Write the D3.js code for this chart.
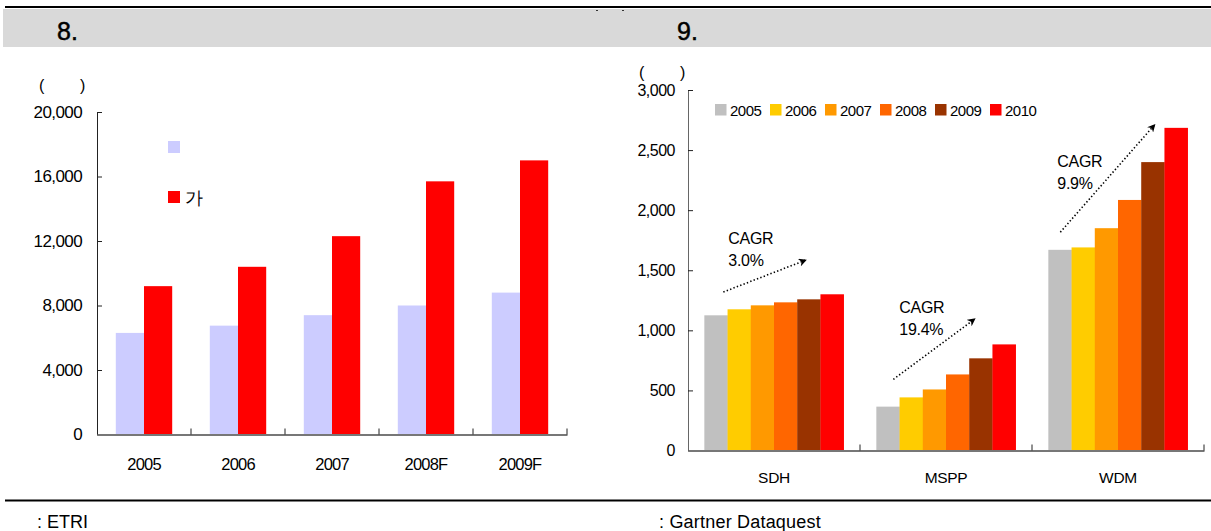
<!DOCTYPE html>
<html>
<head>
<meta charset="utf-8">
<script src="https://cdn.jsdelivr.net/npm/d3@7"></script>
<style>
  html, body { margin: 0; padding: 0; background: #fff; }
  svg { display: block; font-family: "Liberation Sans", Arial, sans-serif; }
  text { fill: #000; }
</style>
</head>
<body>
<svg id="chart" width="1211" height="531"></svg>
<script>
// Figure 8: yearly totals, two series
const years8 = ["2005", "2006", "2007", "2008F", "2009F"];
const seriesNames8 = ["", "가"];
const seriesA8 = [6300, 6750, 7400, 8000, 8800];
const seriesB8 = [9200, 10400, 12300, 15700, 17000];
const yTicks8 = [0, 4000, 8000, 12000, 16000, 20000];
const colors8 = ["#CCCCFF", "#FF0000"];

// Figure 9: market by technology, 2005-2010
const techs9 = ["SDH", "MSPP", "WDM"];
const years9 = ["2005", "2006", "2007", "2008", "2009", "2010"];
const sdh9  = [1125, 1175, 1208, 1233, 1258, 1300];
const mspp9 = [365, 442, 508, 633, 767, 883];
const wdm9  = [1670, 1690, 1850, 2085, 2400, 2685];
const yTicks9 = [0, 500, 1000, 1500, 2000, 2500, 3000];
const colors9 = ["#C0C0C0", "#FFCC00", "#FF9900", "#FF6600", "#993300", "#FF0000"];
const cagrLabels9 = ["3.0%", "19.4%", "9.9%"];

const svg = d3.select("#chart");
const W = 1211;
const FONT = "Liberation Sans, Arial, sans-serif";
const unitText = "(" + "\u00a0".repeat(8) + ")";

// ---------- page frame ----------
svg.append("rect").attr("x", 3).attr("y", 9).attr("width", W - 3).attr("height", 38).attr("fill", "#D9D9D9");
svg.append("line").attr("x1", 5).attr("x2", W).attr("y1", 7).attr("y2", 7).attr("stroke", "#000").attr("stroke-width", 2.2);
svg.append("line").attr("x1", 5).attr("x2", W).attr("y1", 500.5).attr("y2", 500.5).attr("stroke", "#000").attr("stroke-width", 2.2);
svg.append("line").attr("x1", 596).attr("x2", 598).attr("y1", 10.5).attr("y2", 10.5).attr("stroke", "#333").attr("stroke-width", 1);
svg.append("line").attr("x1", 622).attr("x2", 624).attr("y1", 10.5).attr("y2", 10.5).attr("stroke", "#333").attr("stroke-width", 1);

svg.append("text").attr("x", 57).attr("y", 40).attr("font-size", 25).attr("stroke", "#000").attr("stroke-width", 0.5).text("8.");
svg.append("text").attr("x", 677).attr("y", 40).attr("font-size", 25).attr("stroke", "#000").attr("stroke-width", 0.5).text("9.");
svg.append("text").attr("x", 37).attr("y", 528).attr("font-size", 18).attr("letter-spacing", 0).text(": ETRI");
svg.append("text").attr("x", 659).attr("y", 528).attr("font-size", 18).attr("letter-spacing", 0.2).text(": Gartner Dataquest");

// ---------- Figure 8 ----------
{
  const x = d3.scaleBand().domain(years8).range([97, 567]).paddingInner(0.4).paddingOuter(0.2);
  const y = d3.scaleLinear().domain([0, 20000]).range([434.5, 112]);
  const xs = d3.scaleBand().domain([0, 1]).range([0, x.bandwidth()]);
  const rows = years8.map((yr, i) => ({ yr, vals: [seriesA8[i], seriesB8[i]] }));

  const g = svg.append("g");
  g.selectAll("g.cat").data(rows).join("g").attr("class", "cat")
    .attr("transform", d => `translate(${x(d.yr)},0)`)
    .selectAll("rect").data(d => d.vals.map((v, k) => ({ v, k }))).join("rect")
    .attr("x", d => xs(d.k)).attr("width", xs.bandwidth())
    .attr("y", d => y(d.v)).attr("height", d => y(0) - y(d.v))
    .attr("fill", d => colors8[d.k]);

  // y axis
  const ya = g.append("g").attr("transform", "translate(97,0)")
    .call(d3.axisLeft(y).tickValues(yTicks8).tickSizeInner(-5).tickSizeOuter(0).tickPadding(15)
      .tickFormat(d3.format(",")));
  ya.select(".domain").attr("stroke", "#222");
  ya.selectAll(".tick line").attr("stroke", "#222");
  ya.selectAll("text").attr("font-size", 17).attr("letter-spacing", -0.6).attr("fill", "#000").attr("font-family", FONT);

  // x axis with ticks on category boundaries
  const xa = g.append("g").attr("transform", `translate(0,${y(0)})`)
    .call(d3.axisBottom(x).tickSize(0).tickPadding(24));
  xa.select(".domain").attr("stroke", "#777").attr("stroke-width", 2);
  xa.selectAll("text").attr("font-size", 16.5).attr("letter-spacing", -0.8).attr("fill", "#000").attr("font-family", FONT);
  const bounds = years8.map(c => x(c) + x.bandwidth() + x.step() * x.paddingInner() / 2);
  g.selectAll("line.bt").data(bounds).join("line").attr("class", "bt")
    .attr("x1", d => d).attr("x2", d => d).attr("y1", y(0)).attr("y2", y(0) - 6)
    .attr("stroke", "#222").attr("stroke-width", 1);

  // unit label
  g.append("text").attr("x", 39).attr("y", 91).attr("font-size", 16).text(unitText);

  // legend
  const lg = g.append("g").attr("transform", "translate(168,141)");
  seriesNames8.forEach((name, k) => {
    lg.append("rect").attr("x", 0).attr("y", k * 50).attr("width", 12).attr("height", 12).attr("fill", colors8[k]);
    lg.append("text").attr("x", 17).attr("y", k * 50 + 13).attr("font-size", 18).text(name);
  });
}

// ---------- Figure 9 ----------
{
  const data9 = [sdh9, mspp9, wdm9];
  const x = d3.scaleBand().domain(techs9).range([688, 1204]).paddingInner(0.19).paddingOuter(0.095);
  const y = d3.scaleLinear().domain([0, 3000]).range([450.5, 90]);
  const xs = d3.scaleBand().domain(years9).range([0, x.bandwidth()]);
  const rows = techs9.map((t, i) => ({ t, vals: data9[i] }));

  const g = svg.append("g");
  g.selectAll("g.cat").data(rows).join("g").attr("class", "cat")
    .attr("transform", d => `translate(${x(d.t)},0)`)
    .selectAll("rect").data(d => d.vals.map((v, k) => ({ v, k }))).join("rect")
    .attr("x", d => xs(years9[d.k])).attr("width", xs.bandwidth() + 0.3)
    .attr("y", d => y(d.v)).attr("height", d => y(0) - y(d.v))
    .attr("fill", d => colors9[d.k]);

  const ya = g.append("g").attr("transform", "translate(688,0)")
    .call(d3.axisLeft(y).tickValues(yTicks9).tickSizeInner(-5).tickSizeOuter(0).tickPadding(13)
      .tickFormat(d3.format(",")));
  ya.select(".domain").attr("stroke", "#666");
  ya.selectAll(".tick line").attr("stroke", "#222");
  ya.selectAll("text").attr("font-size", 16).attr("letter-spacing", -0.5).attr("fill", "#000").attr("font-family", FONT);

  const xa = g.append("g").attr("transform", `translate(0,${y(0)})`)
    .call(d3.axisBottom(x).tickSize(0).tickPadding(21));
  xa.select(".domain").attr("stroke", "#777").attr("stroke-width", 2);
  xa.selectAll("text").attr("font-size", 15.5).attr("letter-spacing", -0.3).attr("fill", "#000").attr("font-family", FONT);
  const bounds = techs9.map(c => x(c) + x.bandwidth() + x.step() * x.paddingInner() / 2);
  g.selectAll("line.bt").data(bounds).join("line").attr("class", "bt")
    .attr("x1", d => d).attr("x2", d => d).attr("y1", y(0)).attr("y2", y(0) - 6)
    .attr("stroke", "#222").attr("stroke-width", 1);

  g.append("text").attr("x", 639).attr("y", 78).attr("font-size", 16).text(unitText);

  // legend row
  const lg = g.append("g").attr("transform", "translate(715,104)");
  years9.forEach((yr, k) => {
    lg.append("rect").attr("x", k * 55).attr("y", 0).attr("width", 11.5).attr("height", 11.5).attr("fill", colors9[k]);
    lg.append("text").attr("x", k * 55 + 15).attr("y", 12).attr("font-size", 15).attr("letter-spacing", -0.5).text(yr);
  });

  // CAGR growth arrows: offsets from the group start, heights in data units
  const arrowFrom = [[19, 1319], [17, 592], [12, 1817]];
  const arrowTo = [[101, 1583], [98, 1092], [106, 2708]];
  const textAt = [[24, 1717], [23, 1144], [9, 2361]];
  const defs = svg.append("defs");
  defs.append("marker").attr("id", "ah").attr("viewBox", "0 0 10 10").attr("refX", 8).attr("refY", 5)
    .attr("markerWidth", 8).attr("markerHeight", 8).attr("markerUnits", "userSpaceOnUse").attr("orient", "auto")
    .append("path").attr("d", "M0,0 L10,5 L0,10 L3,5 Z").attr("fill", "#000");
  techs9.forEach((t, i) => {
    const x0 = x(t);
    g.append("line")
      .attr("x1", x0 + arrowFrom[i][0]).attr("y1", y(arrowFrom[i][1]))
      .attr("x2", x0 + arrowTo[i][0]).attr("y2", y(arrowTo[i][1]))
      .attr("stroke", "#000").attr("stroke-width", 1.6).attr("stroke-dasharray", "1.4,2.2")
      .attr("marker-end", "url(#ah)");
    const tx = g.append("text").attr("x", x0 + textAt[i][0]).attr("y", y(textAt[i][1])).attr("font-size", 16).attr("letter-spacing", -0.3);
    tx.append("tspan").attr("x", x0 + textAt[i][0]).text("CAGR");
    tx.append("tspan").attr("x", x0 + textAt[i][0]).attr("dy", 22).text(cagrLabels9[i]);
  });
}
</script>
</body>
</html>
